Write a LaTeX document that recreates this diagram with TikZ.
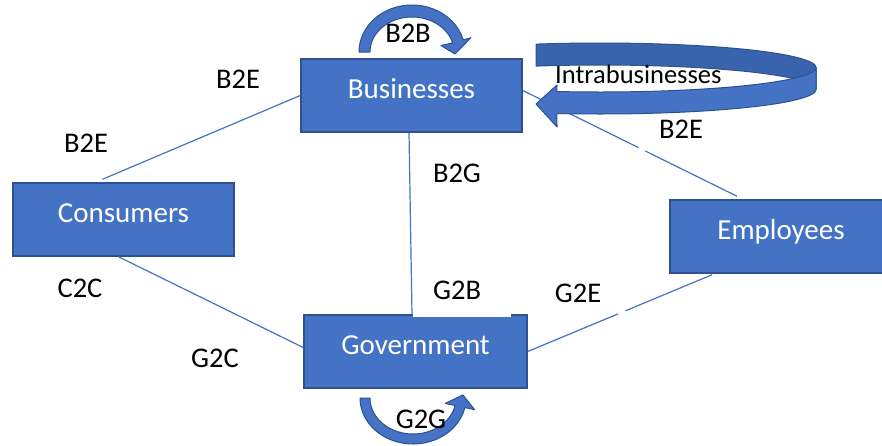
\documentclass[tikz,border=0pt]{standalone}
\usepackage{fontspec}
\setmainfont{Carlito}
\usetikzlibrary{calc}
\definecolor{bfill}{HTML}{4472C4}
\definecolor{bdraw}{HTML}{2F528F}
\definecolor{bdark}{HTML}{3A63AD}
\begin{document}
\begin{tikzpicture}[x=1pt,y=-1pt,
  box/.style={draw=bdraw, line width=1.5pt, fill=bfill, text=white, minimum width=221pt, minimum height=73pt, inner sep=0pt, text height=5pt, text depth=0pt, font=\fontsize{29}{34}\selectfont},
  lbl/.style={anchor=base, inner sep=0pt, font=\fontsize{28.5}{34}\selectfont, text=black},
  conn/.style={draw=bfill, line width=1.2pt},
  curv/.style={fill=bfill, draw=bdraw, line width=1pt, line join=round}]
\useasboundingbox (0,0) rectangle (882,445);
% boxes
\node[box] (bus) at (411.5,95.5) {Businesses};
\node[box] (con) at (123.5,219.5) {Consumers};
\node[box, minimum width=222pt] (emp) at (781,236.5) {Employees};
\node[box, minimum width=223pt] (gov) at (415.5,351.5) {Government};
% connectors
\draw[conn] ([xshift=-21pt,yshift=3pt]con.north) -- (bus.west);
\draw[conn] ([xshift=-5pt]con.south) -- ([yshift=4pt]gov.west);
\draw[conn] ([xshift=-2.5pt]bus.south) -- ([xshift=-3.5pt]gov.north);
\coordinate (be1) at ([yshift=5pt]bus.east);
\coordinate (be2) at ([xshift=-44pt,yshift=3pt]emp.north);
\draw[conn] (be1) -- ($(be1)!0.54!(be2)$) ($(be1)!0.572!(be2)$) -- (be2);
\coordinate (ge2) at ([xshift=-69pt,yshift=-1pt]emp.south);
\draw[conn] (gov.east) -- ($(gov.east)!0.49!(ge2)$) ($(gov.east)!0.53!(ge2)$) -- (ge2);
% intrabusinesses arrow
\path[curv, fill=bdark] plot[domain=252.8:360, samples=60, variable=\t] ({600+216*cos(\t)},{67.5+24.5*sin(\t)})
  -- plot[domain=360:252.8, samples=60, variable=\t] ({600+216*cos(\t)},{89.5+24.5*sin(\t)}) -- cycle;
\path[curv] plot[domain=101.5:0, samples=60, variable=\t] ({600+216*cos(\t)},{67.5+24.5*sin(\t)})
  -- plot[domain=0:101.5, samples=60, variable=\t] ({600+216*cos(\t)},{89.5+24.5*sin(\t)})
  -- (557,127) -- (536,104) -- (557,85) -- cycle;
% B2B arrow
\path[curv] plot[domain=180:345, samples=40, variable=\t] ({412+53*cos(\t)},{52+47*sin(\t)})
  -- ({412+61*cos(345)},{52+55*sin(345)})
  -- (455,54)
  -- ({412+30*cos(345)},{52+25*sin(345)})
  -- plot[domain=345:180, samples=40, variable=\t] ({412+42*cos(\t)},{52+35*sin(\t)}) -- cycle;
% G2G arrow
\path[curv] plot[domain=180:12, samples=40, variable=\t] ({413+53*cos(\t)},{398+46*sin(\t)})
  -- ({413+63*cos(12)},{398+56*sin(12)})
  -- ({413+48*cos(12)+12*0.242},{398+41*sin(12)-12*0.97})
  -- ({413+33*cos(12)},{398+26*sin(12)})
  -- plot[domain=12:180, samples=40, variable=\t] ({413+43*cos(\t)},{398+36*sin(\t)}) -- cycle;
% labels
\node[lbl] (lb2b) at (408,42) {B2B};
\node[lbl] (lb2e1) at (238,88) {B2E};
\node[lbl] (lb2e2) at (86,152) {B2E};
\node[lbl] (lb2g) at (457,182) {B2G};
\node[lbl] (lc2c) at (80,297) {C2C};
\node[lbl] (lg2e) at (578,302) {G2E};
\node[lbl] (lg2c) at (215,367) {G2C};
\node[lbl] (lg2g) at (421,428) {G2G};
\node[lbl] (lb2e3) at (681,138) {B2E};
\node[lbl, anchor=base west, font=\fontsize{26.5}{32}\selectfont] (lintra) at (555,83) {Intrabusinesses};
\node[fill=white, inner sep=0pt, minimum width=98pt, minimum height=40pt, anchor=south west, text height=5pt, text depth=0pt, font=\fontsize{28.5}{34}\selectfont] (lg2b) at (413,317) {\hspace*{-10pt}G2B};
\end{tikzpicture}
\end{document}
